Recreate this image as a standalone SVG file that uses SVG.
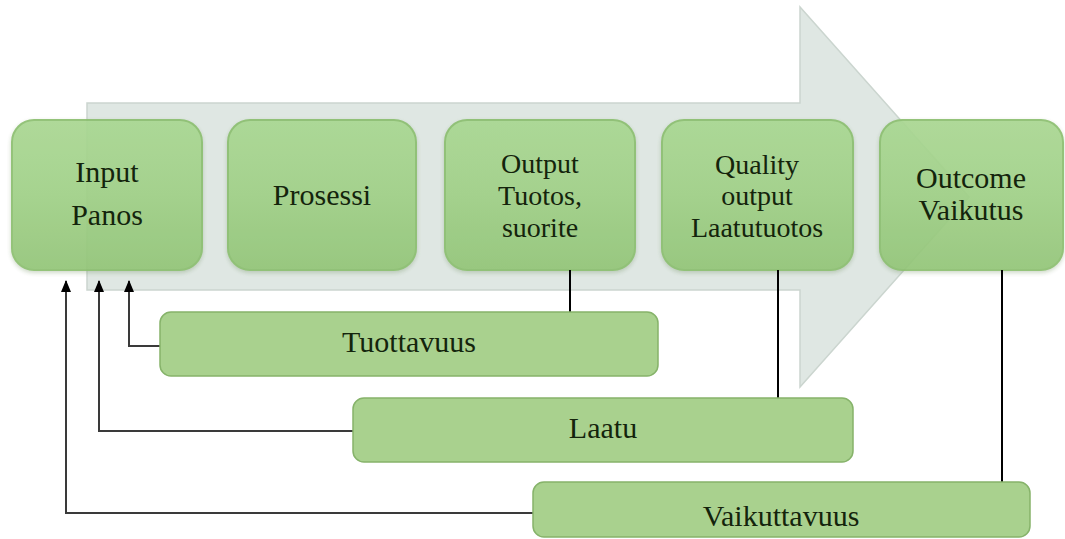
<svg xmlns="http://www.w3.org/2000/svg" width="1065" height="539" viewBox="0 0 1065 539">
  <defs>
    <linearGradient id="gTop" x1="0" y1="0" x2="0" y2="1">
      <stop offset="0" stop-color="#a9d792"/>
      <stop offset="0.5" stop-color="#a0d087"/>
      <stop offset="1" stop-color="#93c578"/>
    </linearGradient>
    <marker id="ah" viewBox="0 0 12 10" refX="11" refY="5" markerWidth="12" markerHeight="10" markerUnits="userSpaceOnUse" orient="auto">
      <path d="M0,0 L12,5 L0,10 Z" fill="#000"/>
    </marker>
    <filter id="sh" x="-10%" y="-10%" width="120%" height="125%">
      <feDropShadow dx="0" dy="2" stdDeviation="2" flood-color="#6c8a5c" flood-opacity="0.35"/>
    </filter>
  </defs>
  <style>
    .top{fill:url(#gTop);stroke:#8cbf70;stroke-width:2;opacity:0.93;filter:url(#sh)}
    .bot{fill:#a9d18e;stroke:#86b36a;stroke-width:1.5}
    text{font-family:'Liberation Serif','DejaVu Serif','Times New Roman',Times,serif}
    .t{font-size:30px;fill:#14240c;text-anchor:middle}
    .t3{font-size:28px}
    .v{stroke:#000;stroke-width:2;fill:none}
    .fb{stroke:#3a3a3a;stroke-width:2;fill:none}
  </style>
  <rect width="1065" height="539" fill="#ffffff"/>
  <g id="bigarrow">
    <polygon points="87,103 800,103 800,7 969,197 800,387 800,290 87,290" fill="#dfe7e3" stroke="#cbd5cf" stroke-width="1.5"/>
  </g>
  <g id="input">
    <rect class="top" x="12" y="120" width="190" height="150" rx="22"/>
    <text class="t" font-family="Liberation Serif"><tspan x="107" y="182">Input</tspan><tspan x="107" y="225">Panos</tspan></text>
  </g>
  <g id="prosessi">
    <rect class="top" x="228" y="120" width="188" height="150" rx="22"/>
    <text class="t"><tspan x="322" y="205">Prosessi</tspan></text>
  </g>
  <g id="output">
    <rect class="top" x="445" y="120" width="190" height="150" rx="22"/>
    <text class="t t3"><tspan x="540" y="173">Output</tspan><tspan x="540" y="205">Tuotos,</tspan><tspan x="540" y="237">suorite</tspan></text>
  </g>
  <g id="quality">
    <rect class="top" x="662" y="120" width="191" height="150" rx="22"/>
    <text class="t t3"><tspan x="757" y="174">Quality</tspan><tspan x="757" y="205">output</tspan><tspan x="757" y="237">Laatutuotos</tspan></text>
  </g>
  <g id="outcome">
    <rect class="top" x="880" y="120" width="183" height="150" rx="22"/>
    <text class="t"><tspan x="971" y="188">Outcome</tspan><tspan x="971" y="220">Vaikutus</tspan></text>
  </g>
  <g id="connectors">
    <line class="v" x1="570" y1="270" x2="570" y2="312"/>
    <line class="v" x1="778" y1="270" x2="778" y2="398"/>
    <line class="v" x1="1002" y1="270" x2="1002" y2="482"/>
    <polyline class="fb" points="160,346 129,346 129,281" marker-end="url(#ah)"/>
    <polyline class="fb" points="353,431 99,431 99,281" marker-end="url(#ah)"/>
    <polyline class="fb" points="533,513 66,513 66,281" marker-end="url(#ah)"/>
  </g>
  <g id="tuottavuus">
    <rect class="bot" x="160" y="312" width="498" height="64" rx="11"/>
    <text class="t" x="409" y="352">Tuottavuus</text>
  </g>
  <g id="laatu">
    <rect class="bot" x="353" y="398" width="500" height="64" rx="11"/>
    <text class="t" x="603" y="438">Laatu</text>
  </g>
  <g id="vaikuttavuus">
    <rect class="bot" x="533" y="482" width="497" height="55" rx="11"/>
    <text class="t" x="781" y="526">Vaikuttavuus</text>
  </g>
</svg>
